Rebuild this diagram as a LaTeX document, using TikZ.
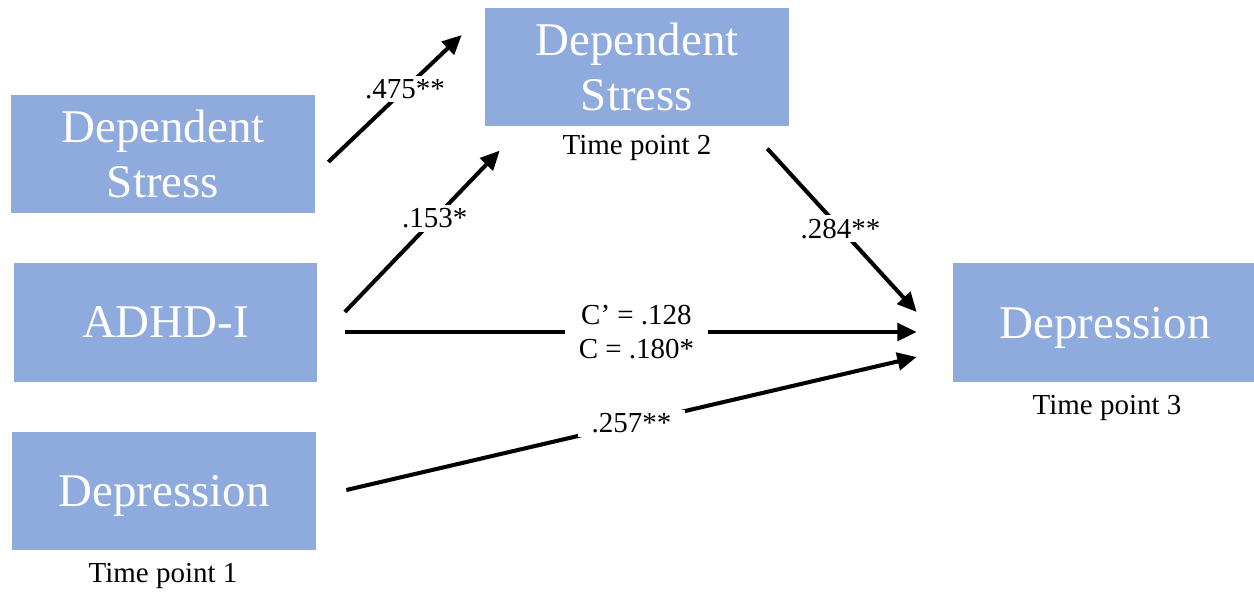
\documentclass[tikz,border=0pt]{standalone}
\usepackage{fontspec}
\setmainfont{Liberation Serif}
\usetikzlibrary{arrows.meta}
\definecolor{boxblue}{HTML}{8FAADC}

\begin{document}
\begin{tikzpicture}[
    x=0.02cm, y=-0.02cm,
    varbox/.style={fill=boxblue, text=white, minimum width=6.08cm, minimum height=2.37cm,
                   inner sep=0pt, align=center, text depth=0pt,
                   font=\fontsize{26.7}{31.3}\selectfont},
    timept/.style={font=\fontsize{16.5}{19.3}\selectfont, inner sep=0pt},
    effect/.style={draw=black, line width=2.3pt, -{Triangle[length=11pt, width=10pt]}},
    coef/.style={fill=white, font=\fontsize{16.5}{19.3}\selectfont, align=center,
                 inner xsep=8pt, inner ysep=2pt},
  ]
  \useasboundingbox (0,0) rectangle (1254,596);
  % variables
  \node[varbox] (ds1) at (163,154) {Dependent\\Stress};
  \node[varbox] (adhd) at (165.5,322.5) {ADHD-I};
  \node[varbox] (dep1) at (164,491) {Depression};
  \node[varbox] (ds2) at (637,67) {Dependent\\Stress};
  \node[varbox] (dep3) at (1105,322.5) {Depression};
  % time points
  \node[timept] (tp1) at (163,576) {Time point 1};
  \node[timept] (tp2) at (637,148) {Time point 2};
  \node[timept] (tp3) at (1107,408) {Time point 3};
  % arrow ends
  \coordinate (ds1out) at ([shift={(13,8)}]ds1.east);
  \coordinate (ds2in) at ([shift={(-23,-32)}]ds2.west);
  \coordinate (adhdup) at ([shift={(27,-10.5)}]adhd.east);
  \coordinate (ds2low) at ([shift={(15,24)}]ds2.south west);
  \coordinate (ds2out) at ([shift={(-22,22)}]ds2.south east);
  \coordinate (dep3top) at ([shift={(-36,-10.5)}]dep3.west);
  \coordinate (adhdmid) at ([shift={(27,9.5)}]adhd.east);
  \coordinate (dep3mid) at ([shift={(-36,9.5)}]dep3.west);
  \coordinate (dep1out) at ([shift={(30,-1)}]dep1.east);
  \coordinate (dep3low) at ([shift={(-36,34.5)}]dep3.west);
  % paths
  \draw[effect] (ds1out) -- node[coef, pos=.575] {.475**} (ds2in);
  \draw[effect] (adhdup) -- node[coef, pos=.58] {.153*} (ds2low);
  \draw[effect] (ds2out) -- node[coef, pos=.49] {.284**} (dep3top);
  \draw[effect] (adhdmid) -- node[coef, pos=.51] {C’ = .128\\C = .180*} (dep3mid);
  \draw[effect] (dep1out) -- node[coef, pos=.5] {.257**} (dep3low);
\end{tikzpicture}
\end{document}
